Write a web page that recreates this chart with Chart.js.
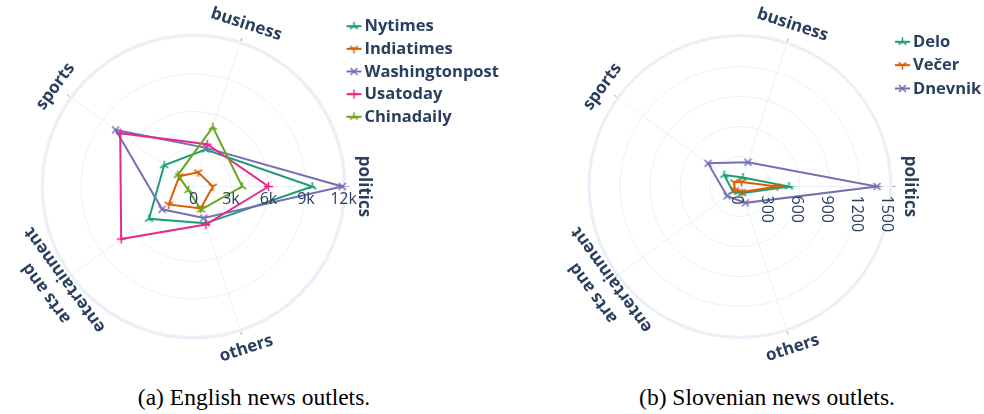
<!DOCTYPE html>
<html>
<head>
<meta charset="utf-8">
<script src="https://cdn.jsdelivr.net/npm/chart.js@4.4.1/dist/chart.umd.min.js"></script>
<style>
  html, body { margin: 0; padding: 0; background: #fff; }
  body { width: 984px; height: 414px; position: relative; overflow: hidden; }
  canvas { position: absolute; top: 0; }
  #en { left: 0; }
  #sl { left: 492px; }
  .caption {
    position: absolute; top: 384px; line-height: 26px;
    font-family: "Liberation Serif", "Times New Roman", serif; font-size: 23.5px;
    color: #000; white-space: nowrap; transform: translateX(-50%);
  }
</style>
</head>
<body>
<canvas id="en" width="540" height="370"></canvas>
<canvas id="sl" width="492" height="370"></canvas>
<div class="caption" style="left:254px">(a) English news outlets.</div>
<div class="caption" style="left:767px">(b) Slovenian news outlets.</div>
<script>
// Categories, listed counter-clockwise starting from the east spoke
const CATEGORIES = ['politics', 'business', 'sports', ['arts and', 'entertainment'], 'others'];
// Chart.js walks the spokes clockwise, so the categories are visited in this order
const CLOCKWISE = [0, 4, 3, 2, 1];

// English outlets: article counts per category (same order as CATEGORIES)
const NYTIMES        = [9500, 3100, 2900, 4400, 3100];
const INDIATIMES     = [1550, 1200, 1400, 2450, 1850];
const WASHINGTONPOST = [11900, 3250, 7700, 3100, 2650];
const USATODAY       = [6000, 3550, 7250, 7150, 3200];
const CHINADAILY     = [3900, 5000, 1550, 500, 1950];

// Slovenian outlets
const DELO    = [490, 95, 195, 88, 70];
const VECER   = [373, 48, 72, 64, 57];
const DNEVNIK = [1370, 255, 395, 160, 172];

// Radial axes
const EN_TICKS = [0, 3000, 6000, 9000, 12000];
const EN_TICK_LABELS = ['0', '3k', '6k', '9k', '12k'];
const EN_RANGE_MAX = 12120;
const SL_TICKS = [0, 300, 600, 900, 1200, 1500];
const SL_TICK_LABELS = ['0', '300', '600', '900', '1200', '1500'];
const SL_RANGE_MAX = 1510;

const INK = '#2a3f5f';
const GRID = '#ebf0f8';
const FONT = '"Open Sans", "Noto Sans", sans-serif';

// Thin line-style markers drawn once into small canvases
function marker(color, shape) {
  const c = document.createElement('canvas');
  c.width = 11; c.height = 11;
  const g = c.getContext('2d');
  g.strokeStyle = color;
  g.lineWidth = 1.5;
  g.translate(5.5, 5.5);
  const seg = (x, y) => { g.moveTo(0, 0); g.lineTo(x, y); };
  g.beginPath();
  if (shape === 'x') {
    g.moveTo(-3.5, -3.5); g.lineTo(3.5, 3.5);
    g.moveTo(3.5, -3.5); g.lineTo(-3.5, 3.5);
  } else if (shape === '+') {
    g.moveTo(0, -4.5); g.lineTo(0, 4.5);
    g.moveTo(-4.5, 0); g.lineTo(4.5, 0);
  } else if (shape === 'y-up') {
    seg(0, -4.5); seg(-4, 2.5); seg(4, 2.5);
  } else {
    seg(0, 4.5); seg(-4, -2.5); seg(4, -2.5);
  }
  g.stroke();
  return c;
}

const EN_SERIES = [
  { label: 'Nytimes', values: NYTIMES, color: '#1b9e77', shape: 'y-up' },
  { label: 'Indiatimes', values: INDIATIMES, color: '#d95f02', shape: 'y-down' },
  { label: 'Washingtonpost', values: WASHINGTONPOST, color: '#7570b3', shape: 'x' },
  { label: 'Usatoday', values: USATODAY, color: '#e7298a', shape: '+' },
  { label: 'Chinadaily', values: CHINADAILY, color: '#66a61e', shape: 'y-up' }
];
const SL_SERIES = [
  { label: 'Delo', values: DELO, color: '#1b9e77', shape: 'y-up' },
  { label: 'Večer', values: VECER, color: '#d95f02', shape: 'y-down' },
  { label: 'Dnevnik', values: DNEVNIK, color: '#7570b3', shape: 'x' }
];

function datasets(list) {
  return list.map((s, i) => ({
    label: s.label,
    data: CLOCKWISE.map(k => s.values[k]),
    borderColor: s.color,
    backgroundColor: s.color,
    borderWidth: 2,
    fill: false,
    tension: 0,
    pointStyle: marker(s.color, s.shape),
    pointRadius: 4,
    pointHoverRadius: 4,
    order: -i            // later traces sit on top
  }));
}

// Tangential category labels, radial tick labels, outside spoke ticks and the legend
const decor = {
  id: 'decor',
  afterDatasetsDraw(chart, args, o) {
    const s = chart.scales.r;
    const ctx = chart.ctx;
    const R = s.drawingArea;
    ctx.save();

    // short ticks just outside the rim at every spoke
    ctx.strokeStyle = 'rgba(90,90,90,0.55)';
    ctx.lineWidth = 1;
    chart.data.labels.forEach((lab, i) => {
      const a = s.getPointPosition(i, R + 1.5);
      const b = s.getPointPosition(i, R + 4.5);
      ctx.beginPath(); ctx.moveTo(a.x, a.y); ctx.lineTo(b.x, b.y); ctx.stroke();
    });

    // category labels, written along the rim
    ctx.fillStyle = INK;
    ctx.font = 'bold 17px ' + FONT;
    ctx.textAlign = 'center';
    ctx.textBaseline = 'middle';
    chart.data.labels.forEach((lab, i) => {
      const lines = Array.isArray(lab) ? lab : [lab];
      const p = s.getPointPosition(i, R + o.labelGap);
      let rot = s.getIndexAngle(i);
      rot = Math.atan2(Math.sin(rot), Math.cos(rot));
      if (rot > Math.PI / 2 + 1e-6) rot -= Math.PI;
      ctx.save();
      ctx.translate(p.x, p.y);
      ctx.rotate(rot);
      lines.forEach((t, k) => ctx.fillText(t, 0, (k - (lines.length - 1) / 2) * 23));
      ctx.restore();
    });

    // radial tick labels along the first spoke
    ctx.font = '16px ' + FONT;
    o.ticks.forEach((v, k) => {
      const p = s.getPointPosition(0, s.getDistanceFromCenterForValue(v));
      if (o.rotatedTicks) {
        ctx.save();
        ctx.translate(p.x, p.y);
        ctx.rotate(s.getIndexAngle(0));
        ctx.textAlign = 'left';
        ctx.textBaseline = 'middle';
        ctx.fillText(o.tickLabels[k], 9, 3.5);
        ctx.restore();
      } else {
        ctx.textAlign = 'center';
        ctx.textBaseline = 'middle';
        ctx.fillText(o.tickLabels[k], p.x, p.y + 13);
      }
    });

    // legend
    const L = o.legend;
    ctx.font = 'bold 16.5px ' + FONT;
    ctx.textAlign = 'left';
    ctx.textBaseline = 'middle';
    chart.data.datasets.forEach((ds, i) => {
      const y = L.y + i * L.dy;
      ctx.strokeStyle = ds.borderColor;
      ctx.lineWidth = 2;
      ctx.beginPath(); ctx.moveTo(L.x, y); ctx.lineTo(L.x + 15, y); ctx.stroke();
      const m = ds.pointStyle;
      ctx.drawImage(m, L.x + 7.5 - m.width / 2, y - m.height / 2);
      ctx.fillStyle = INK;
      ctx.fillText(ds.label, L.x + 18, y + 0.5);
    });
    ctx.restore();
  }
};

function radar(id, series, ticks, tickLabels, rangeMax, padding, rotatedTicks, legend) {
  return new Chart(document.getElementById(id), {
    type: 'radar',
    data: {
      labels: CLOCKWISE.map(k => CATEGORIES[k]),
      datasets: datasets(series)
    },
    options: {
      responsive: false,
      animation: false,
      devicePixelRatio: 1,
      layout: { padding },
      elements: { line: { borderJoinStyle: 'miter' } },
      plugins: {
        legend: { display: false },
        tooltip: { enabled: false },
        decor: { ticks, tickLabels, rotatedTicks, legend, labelGap: 19 }
      },
      scales: {
        r: {
          min: 0,
          max: rangeMax,
          startAngle: 90,
          afterBuildTicks: sc => { sc.ticks = ticks.concat([rangeMax]).map(v => ({ value: v })); },
          afterFit: sc => {
            const a = sc.chart.chartArea;
            sc.xCenter = (a.left + a.right) / 2;
            sc.yCenter = (a.top + a.bottom) / 2;
            sc.drawingArea = Math.min(a.right - a.left, a.bottom - a.top) / 2;
          },
          ticks: { display: false },
          pointLabels: { display: false },
          grid: {
            circular: true,
            color: GRID,
            lineWidth: c => (c.tick && c.tick.value === rangeMax ? 3 : 1)
          },
          angleLines: { color: GRID, lineWidth: 1 }
        }
      }
    },
    plugins: [decor]
  });
}

radar('en', EN_SERIES, EN_TICKS, EN_TICK_LABELS, EN_RANGE_MAX,
  { left: 42, right: 195, top: 35, bottom: 32 }, false,
  { x: 346.5, y: 26.2, dy: 22.65 });
radar('sl', SL_SERIES, SL_TICKS, SL_TICK_LABELS, SL_RANGE_MAX,
  { left: 97, right: 93, top: 35, bottom: 32 }, true,
  { x: 403, y: 41.8, dy: 23.35 });
</script>
</body>
</html>
